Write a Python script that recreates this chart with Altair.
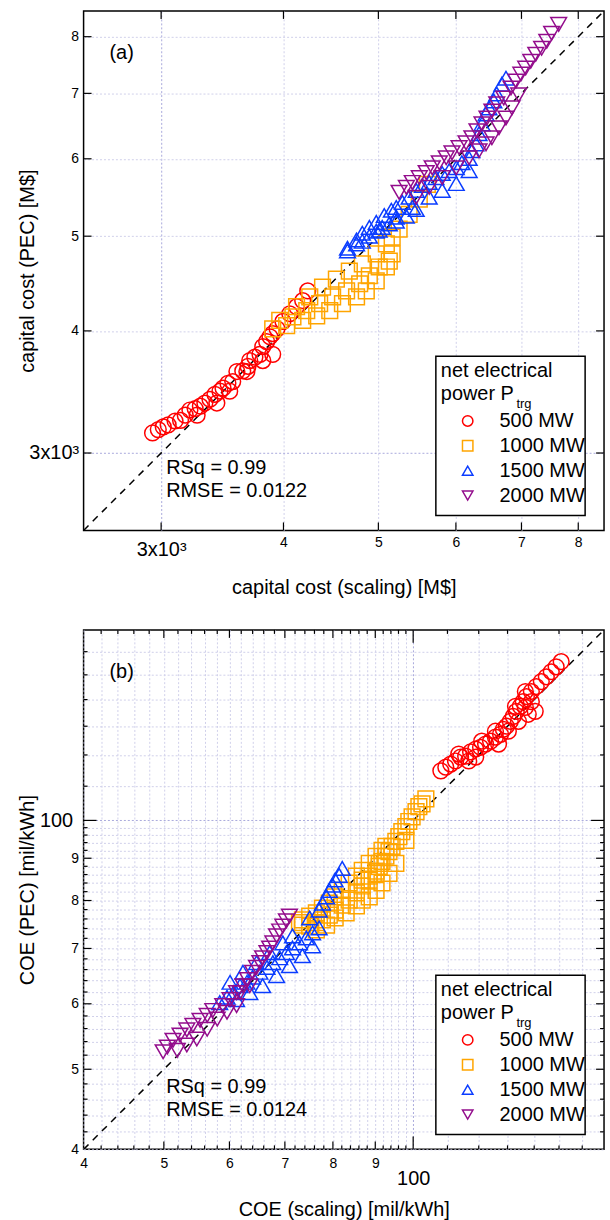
import altair as alt
import pandas as pd

FONT = "Liberation Sans"
SERIES = ["500 MW", "1000 MW", "1500 MW", "2000 MW"]
COLORS = ["#ff0000", "#ffa500", "#0a3cff", "#930c8c"]
SHAPES = ["circle", "square", "triangle-up", "triangle-down"]

# ---------------- panel (a): capital cost [M$]  (scaling, PEC) ----------------
a_500 = [(2940, 3145), (2980, 3170), (3015, 3190), (3050, 3205), (3100, 3235), (3140, 3240),
         (3175, 3280), (3210, 3320), (3250, 3330), (3290, 3350), (3325, 3375), (3365, 3405),
         (3405, 3445), (3445, 3470), (3470, 3495), (3510, 3535), (3550, 3550), (3585, 3635),
         (3635, 3640), (3680, 3680), (3695, 3730), (3740, 3760), (3785, 3785), (3810, 3855),
         (3845, 3900), (3875, 3945), (3900, 3975), (3940, 4020), (3995, 4090), (4060, 4165),
         (4125, 4235), (4185, 4295), (4235, 4395), (3265, 3280), (3420, 3375), (3525, 3470),
         (3670, 3635), (3810, 3730), (3900, 3785)]
a_1000 = [(3900, 4020), (3965, 4100), (4125, 4235), (4255, 4335), (4385, 4435), (4530, 4520),
          (4670, 4605), (4815, 4685), (4975, 4795), (5095, 4910), (5165, 4990), (4030, 4050),
          (4185, 4100), (4325, 4145), (4460, 4195), (4595, 4265), (4750, 4335), (4860, 4395),
          (4975, 4500), (5095, 4650), (5165, 4795), (4090, 4135), (4225, 4195), (4355, 4265),
          (4490, 4335), (4640, 4395), (4785, 4470), (4895, 4555), (5010, 4650), (5130, 4715),
          (5250, 5085), (5375, 5265), (5505, 5455), (5610, 5650)]
a_1500 = [(4650, 4830), (4750, 4910), (4815, 4940), (4895, 5000), (4975, 5060), (5045, 5105),
          (5130, 5145), (5215, 5180), (5340, 5240), (5465, 5325), (4650, 4860), (4750, 4955),
          (4815, 5035), (4895, 5105), (4975, 5165), (5070, 5250), (5155, 5315), (5215, 5350),
          (5290, 5415), (5375, 5480), (5465, 5570), (5545, 5635), (5635, 5675), (5725, 5740),
          (5810, 5795), (5905, 5835), (6005, 5875), (6085, 5945), (6190, 6005), (6230, 6115),
          (6290, 6215), (6335, 6365), (6380, 6515), (6440, 6670), (6485, 6765), (6560, 6875),
          (6605, 6990), (6685, 7155), (6750, 7255), (5215, 5230), (5415, 5350), (5635, 5480),
          (5810, 5570), (6005, 5660), (6190, 5835), (5010, 5070)]
a_2000 = [(5250, 5545), (5340, 5610), (5415, 5675), (5505, 5740), (5595, 5810), (5675, 5875),
          (5770, 5945), (5865, 6015), (5945, 6085), (6045, 6160), (6145, 6230), (6230, 6305),
          (6305, 6410), (6380, 6515), (6455, 6605), (6530, 6715), (6605, 6830), (6715, 6925),
          (6830, 7090), (6910, 7205), (6990, 7325), (7070, 7430), (7155, 7550), (7240, 7675),
          (7340, 7785), (7430, 7915), (7515, 8065), (7640, 8235), (5465, 5480), (5635, 5610),
          (5810, 5740), (6005, 5875), (6190, 6015), (6335, 6115), (6440, 6215), (6530, 6305),
          (6640, 6455), (6750, 6605), (6845, 6765), (6955, 6975)]

# ---------------- panel (b): COE [mil/kWh]  (scaling, PEC) ----------------
b_500 = [(108.0, 114.8), (109.5, 116.0), (111.0, 117.0), (112.5, 118.0), (114.1, 119.3),
         (115.7, 119.6), (117.3, 121.0), (119.0, 122.0), (120.6, 122.6), (122.3, 123.7),
         (124.0, 124.7), (125.7, 126.1), (127.5, 127.1), (128.5, 128.9), (129.6, 130.0),
         (131.0, 131.8), (132.1, 133.6), (133.2, 135.5), (134.7, 137.4), (135.8, 139.2),
         (137.0, 141.2), (138.9, 143.2), (140.8, 145.2), (142.8, 147.2), (144.8, 149.2),
         (146.8, 151.3), (148.8, 153.4), (150.9, 155.6), (113.5, 120.3), (116.7, 118.0),
         (121.0, 124.7), (125.7, 128.2), (130.3, 128.2), (132.9, 137.4), (136.6, 137.0),
         (137.7, 134.4), (138.9, 139.2), (136.6, 143.2), (140.4, 135.5), (134.0, 131.8),
         (126.8, 123.7), (119.0, 119.3)]
b_1000 = [(103.6, 106.2), (102.5, 104.7), (101.6, 103.9), (100.8, 102.5), (99.7, 101.0),
          (98.8, 99.7), (98.0, 98.3), (96.9, 96.9), (96.1, 95.6), (95.3, 94.3), (94.3, 93.0),
          (93.5, 91.7), (92.7, 90.5), (91.7, 89.2), (91.0, 88.0), (90.2, 86.8), (88.5, 85.6),
          (86.8, 84.7), (92.7, 93.0), (95.3, 88.7), (98.0, 94.6), (91.0, 88.7), (90.2, 86.3),
          (88.5, 84.7), (86.8, 83.3), (85.4, 81.7), (83.7, 80.1), (82.1, 79.0), (80.5, 77.9),
          (79.2, 76.8), (77.7, 75.8), (76.4, 75.2), (75.0, 74.5), (73.5, 74.7), (91.7, 92.0),
          (90.2, 90.5), (88.5, 88.7), (86.8, 87.0), (85.4, 85.6), (83.7, 84.0), (82.1, 82.3),
          (80.5, 80.8), (79.2, 79.4), (77.7, 78.3), (76.4, 77.3), (75.0, 76.6), (73.5, 75.8),
          (72.9, 75.2), (93.5, 86.3), (91.7, 84.0), (90.2, 82.3), (88.5, 80.8), (86.8, 80.1),
          (85.4, 78.8), (83.0, 77.3), (80.5, 76.2), (78.6, 74.7), (76.4, 73.7)]
b_1500 = [(82.1, 87.5), (81.4, 85.8), (80.5, 84.7), (79.9, 83.5), (79.2, 82.3), (78.6, 80.8),
          (77.7, 79.4), (77.0, 77.9), (58.4, 60.2), (59.6, 61.1), (60.7, 61.9), (61.8, 63.1),
          (63.0, 63.7), (64.0, 64.6), (65.3, 65.5), (66.6, 66.4), (67.7, 67.3), (69.0, 68.2),
          (70.3, 69.2), (71.5, 70.1), (72.9, 71.1), (74.3, 72.1), (75.6, 73.1), (77.0, 74.1),
          (61.2, 60.7), (63.5, 61.9), (65.8, 63.1), (68.4, 64.9), (70.9, 66.7), (73.5, 68.6),
          (75.6, 70.5), (60.1, 63.7), (62.3, 65.5), (64.7, 67.3), (67.1, 69.2), (69.6, 71.1),
          (71.5, 72.5), (75.0, 76.2)]
b_2000 = [(70.9, 76.6), (70.3, 75.6), (69.6, 74.5), (69.0, 73.5), (68.4, 72.5), (67.7, 71.1),
          (67.1, 70.1), (66.6, 69.2), (65.8, 68.2), (65.3, 67.3), (64.7, 66.4), (64.0, 65.5),
          (63.1, 64.2), (62.3, 63.1), (61.2, 61.9), (60.1, 60.7), (58.9, 59.7), (57.3, 58.9),
          (56.4, 58.1), (55.3, 57.3), (54.2, 56.5), (53.3, 55.8), (52.3, 55.0), (51.3, 54.2),
          (50.5, 53.2), (49.9, 52.5), (61.2, 59.7), (59.6, 58.6), (58.0, 57.5), (56.4, 55.9),
          (54.8, 54.4), (53.3, 53.5), (51.9, 52.7), (61.8, 61.9), (63.5, 63.1)]

# ---------------- axes ----------------
A_DOMAIN = [2500, 8500]
A_TICKS = [3000, 4000, 5000, 6000, 7000, 8000]
A_TICK_LABELS = ["3x10³", "4", "5", "6", "7", "8"]

B_DOMAIN = [40, 170]
B_MAJOR = [40, 50, 60, 70, 80, 90, 100]
B_MAJOR_LABELS = ["4", "5", "6", "7", "8", "9", "100"]
B_MINOR = [42, 44, 46, 48, 52, 54, 56, 58, 62, 64, 66, 68, 72, 74, 76, 78,
           82, 84, 86, 88, 92, 94, 96, 98, 110, 120, 130, 140, 150, 160]

W, H = 523, 522


def frame(groups):
    rows = []
    for name, pts in zip(SERIES, groups):
        for xv, yv in pts:
            rows.append({"series": name, "x": xv, "y": yv})
    return pd.DataFrame(rows)


def label_expr(vals, labels):
    expr = "''"
    for v, l in reversed(list(zip(vals, labels))):
        expr = f"(abs(datum.value - {v}) < 1e-6 ? '{l}' : {expr})"
    return expr


def make_axis(orient, vals, labels, big_val, title, big_pad, small_pad, title_pos):
    kw = dict(
        values=vals,
        labelExpr=label_expr(labels[0], labels[1]),
        grid=True,
        gridColor={"condition": {"test": f"datum.value == {big_val}", "value": "#a9a9dc"}, "value": "#d0d0ea"},
        gridDash=[2, 2],
        gridWidth=1,
        ticks=False,
        domain=False,
        labelFont=FONT,
        labelColor="black",
        labelFontSize={"condition": {"test": f"datum.value == {big_val}", "value": 20}, "value": 14},
        labelPadding={"condition": {"test": f"datum.value == {big_val}", "value": big_pad}, "value": small_pad},
        labelFlush=False,
        labelOverlap=False,
        title=title,
        titleFont=FONT,
        titleFontSize=20,
        titleFontWeight="normal",
        titleColor="black",
        titleBaseline="middle",
    )
    if orient == "x":
        kw["titleY"] = title_pos
    else:
        kw["titleX"] = title_pos
    return alt.Axis(**kw)


def panel(df, domain, xaxis, yaxis, tick_groups, tag, rsq, rmse):
    xs = alt.Scale(type="log", domain=domain, nice=False, zero=False)
    ys = alt.Scale(type="log", domain=domain, nice=False, zero=False)
    X = lambda f: alt.X(f, type="quantitative", scale=xs, axis=xaxis)
    Y = lambda f: alt.Y(f, type="quantitative", scale=ys, axis=yaxis)

    diag = alt.Chart(pd.DataFrame({"x": domain, "y": domain})).mark_line(
        color="black", strokeDash=[7, 6], strokeWidth=1.5, clip=True
    ).encode(x=X("x"), y=Y("y"))

    leg = alt.Legend(
        orient="none", legendX=354, legendY=347,
        title=["net electrical", "power P"], titleFont=FONT, titleFontSize=20,
        titleFontWeight="normal", titleColor="black", titleLineHeight=23, titlePadding=7,
        labelFont=FONT, labelFontSize=20, labelColor="black",
        padding=5, cornerRadius=0,
        symbolSize=110, symbolStrokeWidth=1.5, symbolOffset=17, labelOffset=22,
        rowPadding=5,
    )
    pts = alt.Chart(df).mark_point(filled=False, size=250, strokeWidth=1.5, opacity=1).encode(
        x=X("x"), y=Y("y"),
        color=alt.Color("series:N", scale=alt.Scale(domain=SERIES, range=COLORS), legend=leg),
        shape=alt.Shape("series:N", scale=alt.Scale(domain=SERIES, range=SHAPES), legend=leg),
        order=alt.Order("idx:Q"),
    ).transform_window(idx="row_number()")

    layers = [diag, pts]
    for vals, length in tick_groups:
        tdf = pd.DataFrame({"v": vals})
        base = alt.Chart(tdf).mark_rule(color="black", strokeWidth=1.2)
        layers += [
            base.encode(x=X("v"), y=alt.value(H), y2=alt.value(H - length)),
            base.encode(x=X("v"), y=alt.value(0), y2=alt.value(length)),
            base.encode(y=Y("v"), x=alt.value(0), x2=alt.value(length)),
            base.encode(y=Y("v"), x=alt.value(W), x2=alt.value(W - length)),
        ]

    # legend box (white background with black frame), drawn beneath the legend entries
    box = alt.Chart(alt.Data(values=[{"k": 1}])).mark_rect(
        fill="white", stroke="black", strokeWidth=1.5
    ).encode(x=alt.value(354), x2=alt.value(504), y=alt.value(347), y2=alt.value(507))
    layers.append(box)

    def txt(s, x, y, size=20):
        return alt.Chart(alt.Data(values=[{"t": s}])).mark_text(
            align="left", baseline="alphabetic", font=FONT, fontSize=size, color="black"
        ).encode(text="t:N", x=alt.value(x), y=alt.value(y))

    layers += [
        txt(tag, 26, 48),
        txt(rsq, 83, 465),
        txt(rmse, 83, 488),
        txt("trg", 435, 399, 13),
    ]
    return alt.layer(*layers).properties(width=W, height=H)


xa = make_axis("x", A_TICKS, (A_TICKS, A_TICK_LABELS), 3000, "capital cost (scaling) [M$]", 9, 5, 57)
ya = make_axis("y", A_TICKS, (A_TICKS, A_TICK_LABELS), 3000, "capital cost (PEC) [M$]", 5, 5, -56)

b_vals = sorted(B_MAJOR + B_MINOR)
xb = make_axis("x", b_vals, (B_MAJOR, B_MAJOR_LABELS), 100, "COE (scaling) [mil/kWh]", 19, 7, 60)
yb = make_axis("y", b_vals, (B_MAJOR, B_MAJOR_LABELS), 100, "COE (PEC) [mil/kWh]", 11, 5, -56)

pa = panel(frame([a_500, a_1000, a_1500, a_2000]), A_DOMAIN, xa, ya,
           [(A_TICKS, 8)], "(a)", "RSq = 0.99", "RMSE = 0.0122")
pb = panel(frame([b_500, b_1000, b_1500, b_2000]), B_DOMAIN, xb, yb,
           [(B_MINOR, 4), ([v for v in B_MAJOR if v not in (40, 100)], 8), ([100], 13)],
           "(b)", "RSq = 0.99", "RMSE = 0.0124")

chart = alt.vconcat(pa, pb, spacing=30).resolve_scale(
    color="independent", shape="independent", x="independent", y="independent"
).properties(
    padding={"left": 17, "top": 6, "right": 4, "bottom": 2}, background="white"
).configure_view(stroke="black", strokeWidth=1.5)

chart.save("out.html", embed_options={"renderer": "svg", "actions": False})
